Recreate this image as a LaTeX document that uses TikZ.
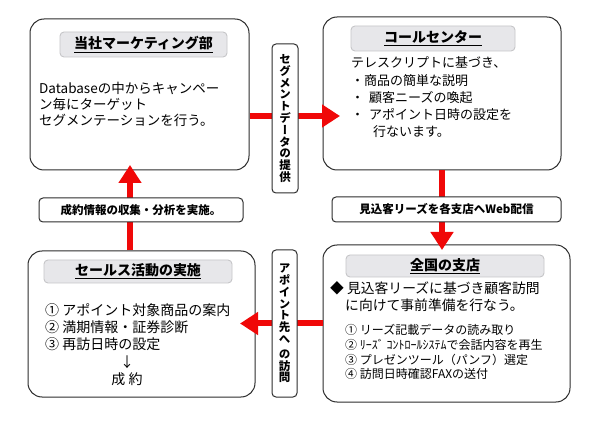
\documentclass[tikz,border=0pt]{standalone}
\usepackage{fontspec}
\setmainfont{Noto Sans CJK JP}
\newfontfamily\vfont[RawFeature={+vert}]{Noto Sans CJK JP}
\usetikzlibrary{arrows.meta}
\definecolor{arrowred}{RGB}{240,8,8}
\definecolor{barfill}{RGB}{231,231,234}
\definecolor{barline}{RGB}{198,198,200}
\definecolor{boxline}{RGB}{45,45,45}
\begin{document}
\begin{tikzpicture}[x=1pt,y=-1pt,
  mainbox/.style={draw=boxline,line width=1pt,rounded corners=14pt,inner sep=0pt,fill=white},
  titlebar/.style={draw=barline,fill=barfill,line width=0.9pt,rounded corners=4pt,inner sep=0pt,
    font=\fontsize{14pt}{16pt}\selectfont\bfseries},
  tagbox/.style={draw=boxline,fill=white,line width=1pt,rounded corners=4pt,inner sep=0pt,
    font=\fontsize{11.5pt}{13pt}\selectfont\bfseries},
  vtagbox/.style={tagbox,align=center,font=\vfont\bfseries\fontsize{11.5pt}{11.8pt}\selectfont},
  body/.style={inner sep=0pt,align=left},
  conn/.style={draw=arrowred,line width=6pt,-{Triangle[length=18pt,width=22pt]}}]
\useasboundingbox[fill=white] (0,0) rectangle (598,425);

% main boxes
\node[mainbox,minimum width=219pt,minimum height=151pt] (tl) at (139.5,94.5) {};
\node[mainbox,minimum width=238pt,minimum height=153pt] (tr) at (442,93.5) {};
\node[mainbox,minimum width=247pt,minimum height=157pt] (br) at (446.5,323.5) {};
\node[mainbox,minimum width=227pt,minimum height=146pt] (bl) at (141.5,324) {};

% title bars
\node[titlebar,minimum width=167pt,minimum height=25pt] (tlt) at (143.5,44.5) {\underline{当社マーケティング部}};
\node[titlebar,minimum width=164pt,minimum height=25pt] (trt) at (433,38.5) {\underline{コールセンター}};
\node[titlebar,minimum width=198pt,minimum height=22pt] (brt) at (445,266) {\underline{全国の支店}};
\node[titlebar,minimum width=188pt,minimum height=23pt] (blt) at (138,271.5) {\underline{セールス活動の実施}};

% body texts (anchor = baseline of the last line)
\node[body,anchor=base west,font=\fontsize{13.5pt}{16pt}\selectfont] (tltext) at (39,126)
  {Databaseの中からキャンペー\\ン毎にターゲット\\セグメンテーションを行う。};
\node[body,anchor=base west,font=\fontsize{13pt}{17.25pt}\selectfont] (trtext) at (351,137)
  {テレスクリプトに基づき、\\・商品の簡単な説明\\・\hspace*{5pt}顧客ニーズの喚起\\・\hspace*{5pt}アポイント日時の設定を\\\hspace*{22pt}行ないます。};
\node[body,anchor=base west,font=\fontsize{13.8pt}{17pt}\selectfont] (brtext) at (330,310)
  {◆ 見込客リーズに基づき顧客訪問\\\hspace*{15pt}に向けて事前準備を行なう。};
\node[body,anchor=base west,font=\fontsize{12pt}{14.8pt}\selectfont] (brlist) at (345,378.9)
  {① リーズ記載データの読み取り\\② ﾘｰｽﾞ ｺﾝﾄﾛｰﾙｼｽﾃﾑで会話内容を再生\\③ プレゼンツール（パンフ）選定\\④ 訪問日時確認FAXの送付};
\node[body,anchor=base west,font=\fontsize{14pt}{17pt}\selectfont] (bllist) at (45,349.3)
  {① アポイント対象商品の案内\\② 満期情報・証券診断\\③ 再訪日時の設定};
\node[body,align=center,anchor=base,font=\fontsize{14pt}{17pt}\selectfont] (blres) at (127,384.3)
  {↓\\成 約};

% connector end points
\coordinate (a1) at (340,116);
\coordinate (a2) at (240,323.5);
\coordinate (a3) at (130,165);
\coordinate (a4) at (442,250);

% connectors
\draw[conn] (tl.east |- a1) -- (a1);
\draw[conn] (br.west) -- (a2);
\draw[conn] (bl.north -| a3) -- (a3);
\draw[conn] (tr.south) -- (a4);

% tags on connectors
\node[vtagbox,minimum width=26pt,minimum height=149pt] (lab1) at (285,118.5)
  {セ\\グ\\メ\\ン\\ト\\デ\\ー\\タ\\の\\提\\供};
\node[vtagbox,minimum width=25pt,minimum height=147pt] (lab2) at (284.5,323.5)
  {ア\\ポ\\イ\\ン\\ト\\先\\へ\\[3pt]の\\訪\\問};
\node[tagbox,minimum width=204pt,minimum height=24pt] (lab3) at (141,210) {成約情報の収集・分析を実施。};
\node[tagbox,minimum width=229pt,minimum height=25pt] (lab4) at (446.5,209.5) {見込客リーズを各支店へWeb配信};
\end{tikzpicture}
\end{document}
